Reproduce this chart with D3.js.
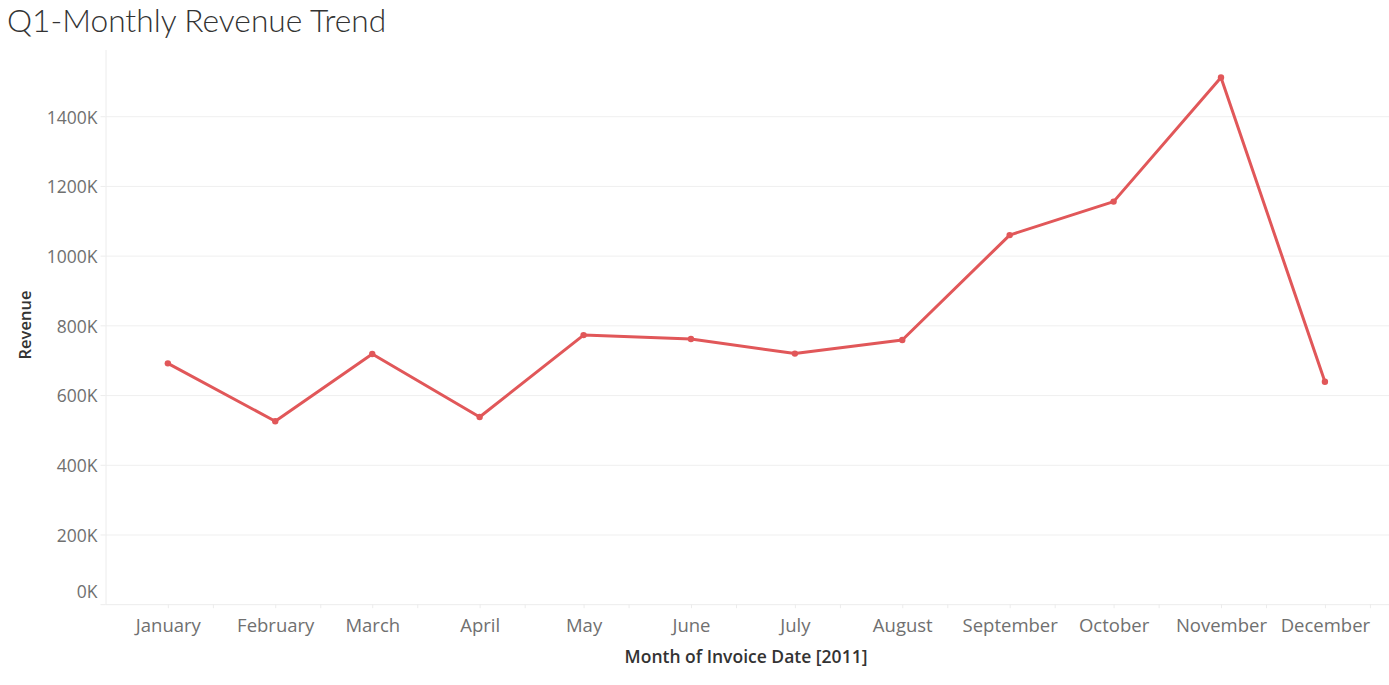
<!DOCTYPE html>
<html>
<head>
<meta charset="utf-8">
<script src="https://cdn.jsdelivr.net/npm/d3@7"></script>
<style>
  body { margin: 0; background: #fff; }
  svg { display: block; font-family: "Open Sans", "Noto Sans", sans-serif; }
</style>
</head>
<body>
<svg id="chart" width="1389" height="685"></svg>
<script>
// monthly revenue, 2011 (in thousands)
const months = ["January","February","March","April","May","June","July","August","September","October","November","December"];
const revenue = [691, 525, 718, 537, 772, 761, 719, 758, 1059, 1155, 1511, 638];
const yTicks = [0, 200, 400, 600, 800, 1000, 1200, 1400];

const data = months.map((m, i) => ({ date: new Date(Date.UTC(2011, i, 1)), value: revenue[i] * 1000 }));

const svg = d3.select('#chart');
const plotLeft = 105.5, plotRight = 1389, plotTop = 50, plotBottom = 604.2;
const font = '"Open Sans", "Noto Sans", sans-serif';

const x = d3.scaleUtc()
	.domain([new Date(Date.UTC(2010, 11, 14)), new Date(Date.UTC(2011, 11, 19, 12))])
	.range([plotLeft, plotRight]);

const y = d3.scaleLinear()
	.domain([0, 1590000])
	.range([plotBottom, plotTop]);

// title
svg.append('text')
	.attr('x', 7)
	.attr('y', 32)
	.style('font-family', 'Lato, "Open Sans", sans-serif')
	.style('font-weight', 300)
	.style('font-size', '31.7px')
	.style('fill', '#333')
	.text('Q1-Monthly Revenue Trend');

// gridlines
svg.append('g')
	.selectAll('line')
	.data(yTicks.slice(1))
	.join('line')
	.attr('x1', plotLeft).attr('x2', plotRight)
	.attr('y1', d => y(d * 1000) + 0.5).attr('y2', d => y(d * 1000) + 0.5)
	.attr('stroke', '#efefef');

// y axis
const yAxis = svg.append('g')
	.attr('transform', 'translate(' + plotLeft + ',0)')
	.call(d3.axisLeft(y).tickValues(yTicks.map(d => d * 1000)).tickFormat(d => (d / 1000) + 'K').tickSize(5).tickPadding(3))
	.attr('font-family', font);
yAxis.select('.domain').attr('stroke', '#ececec').attr('d', 'M0.5,' + plotTop + 'V' + (plotBottom + 0.5));
yAxis.selectAll('.tick line').attr('stroke', '#ececec');
yAxis.selectAll('.tick text')
	.style('font-size', '17.5px')
	.style('fill', '#707070')
	.attr('dy', d => d === 0 ? '-0.36em' : '0.39em');

// x axis
const minorTicks = data.map(d => d3.utcDay.offset(d.date, 13));
const xAxis = svg.append('g')
	.attr('transform', 'translate(0,' + plotBottom + ')')
	.call(d3.axisBottom(x).tickValues(data.map(d => d.date)).tickFormat((d, i) => months[i]).tickSize(4).tickPadding(10.5))
	.attr('font-family', font);
xAxis.select('.domain').attr('stroke', '#ececec').attr('d', 'M' + plotLeft + ',0.5H' + plotRight);
xAxis.selectAll('.tick line').attr('stroke', '#ececec');
xAxis.selectAll('.tick text')
	.style('font-size', '18.5px')
	.style('fill', '#707070');
xAxis.append('g')
	.selectAll('line')
	.data(minorTicks)
	.join('line')
	.attr('x1', d => x(d) + 0.5).attr('x2', d => x(d) + 0.5)
	.attr('y1', 0).attr('y2', 4)
	.attr('stroke', '#ececec');

// axis titles
svg.append('text')
	.attr('transform', 'translate(31,325) rotate(-90)')
	.attr('text-anchor', 'middle')
	.style('font-size', '16.5px')
	.style('font-weight', 600)
	.style('fill', '#333')
	.text('Revenue');

svg.append('text')
	.attr('x', 746)
	.attr('y', 663)
	.attr('text-anchor', 'middle')
	.style('font-size', '17.5px')
	.style('font-weight', 600)
	.style('fill', '#333')
	.text('Month of Invoice Date [2011]');

// line + points
const line = d3.line().x(d => x(d.date)).y(d => y(d.value));
svg.append('path')
	.datum(data)
	.attr('d', line)
	.attr('fill', 'none')
	.attr('stroke', '#e15759')
	.attr('stroke-width', 3)
	.attr('stroke-linejoin', 'round');

svg.append('g')
	.selectAll('circle')
	.data(data)
	.join('circle')
	.attr('cx', d => x(d.date))
	.attr('cy', d => y(d.value))
	.attr('r', 3.2)
	.attr('fill', '#e15759');
</script>
</body>
</html>
